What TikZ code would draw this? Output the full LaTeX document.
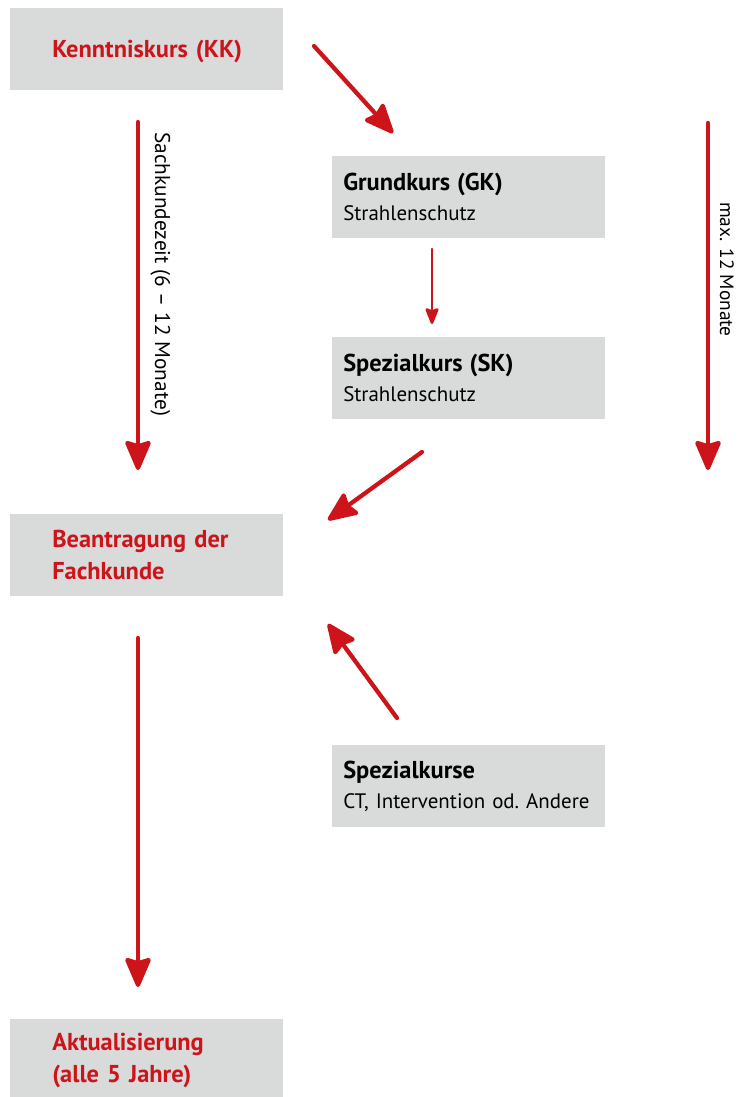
\documentclass[tikz,border=0pt]{standalone}
\usepackage{fontspec}
\setmainfont{PT Sans}
\usetikzlibrary{arrows.meta}

\definecolor{kred}{RGB}{204,20,26}
\definecolor{kgrau}{RGB}{217,218,218}

\newcommand{\titel}[1]{{\bfseries\fontsize{18.3}{22.5}\selectfont #1}}

\tikzset{
    kasten/.style={fill=kgrau, anchor=north west, minimum height=61.5pt, inner ysep=0pt, align=left},
    rot/.style={kasten, inner xsep=31.5pt, text width=141.75pt, text=kred, font=\bfseries\fontsize{18.3}{24}\selectfont},
    schwarz/.style={kasten, inner xsep=8.25pt, text width=188.25pt, font=\fontsize{15.7}{22.5}\selectfont},
    pfeil/.style={draw=kred, line width=3.2pt, line cap=round, -{Stealth[length=25pt,width=21pt,inset=3pt,round]}},
    pfeilchen/.style={pfeil, line width=1.9pt, -{Stealth[length=14pt,width=11pt,inset=2pt,round]}},
    notiz/.style={rotate=-90, anchor=base west, inner sep=0pt, font=\fontsize{16}{19}\selectfont}
}

\begin{document}
\begin{tikzpicture}[x=0.75pt, y=-0.75pt]
    \useasboundingbox (0,0) rectangle (746,1097);
    \node[rot, text depth=0pt] (kk) at (10,8) {Kenntniskurs~(KK)};
    \node[schwarz] (gk) at (332,156) {\titel{Grundkurs (GK)}\\Strahlenschutz};
    \node[schwarz] (sk) at (332,337) {\titel{Spezialkurs (SK)}\\Strahlenschutz};
    \node[rot] (fk) at (10,514) {Beantragung der\\Fachkunde};
    \node[schwarz] (sp) at (332,745) {\titel{Spezialkurse}\\\mbox{CT, Intervention od.\ Andere}};
    \node[rot] (ak) at (10,1019) {Aktualisierung\\(alle 5 Jahre)};

    \node[notiz] (skz) at (155,132) {Sachkundezeit (6 – 12 Monate)};
    \node[notiz, font=\fontsize{14.5}{17}\selectfont] (max) at (720,202) {max. 12 Monate};

    \coordinate (kk-o) at (314,46);   \coordinate (gk-n) at (393,133);
    \coordinate (kk-s) at (138,122);  \coordinate (fk-n) at (138,470);
    \coordinate (re-o) at (708,123);  \coordinate (re-u) at (708,470);
    \coordinate (sk-s) at (422,452);  \coordinate (fk-o) at (328,520);
    \coordinate (sp-n) at (397,718);  \coordinate (fk-u) at (328,624);
    \coordinate (fk-s) at (138,638);  \coordinate (ak-n) at (138,987);
    \coordinate (gk-s) at (432,249);  \coordinate (sk-n) at (432,324);

    \foreach \a/\b in {kk-o/gk-n, kk-s/fk-n, re-o/re-u, sk-s/fk-o, sp-n/fk-u, fk-s/ak-n}{
        \draw[pfeil] (\a) -- (\b);
    }
    \draw[pfeilchen] (gk-s) -- (sk-n);
\end{tikzpicture}
\end{document}
